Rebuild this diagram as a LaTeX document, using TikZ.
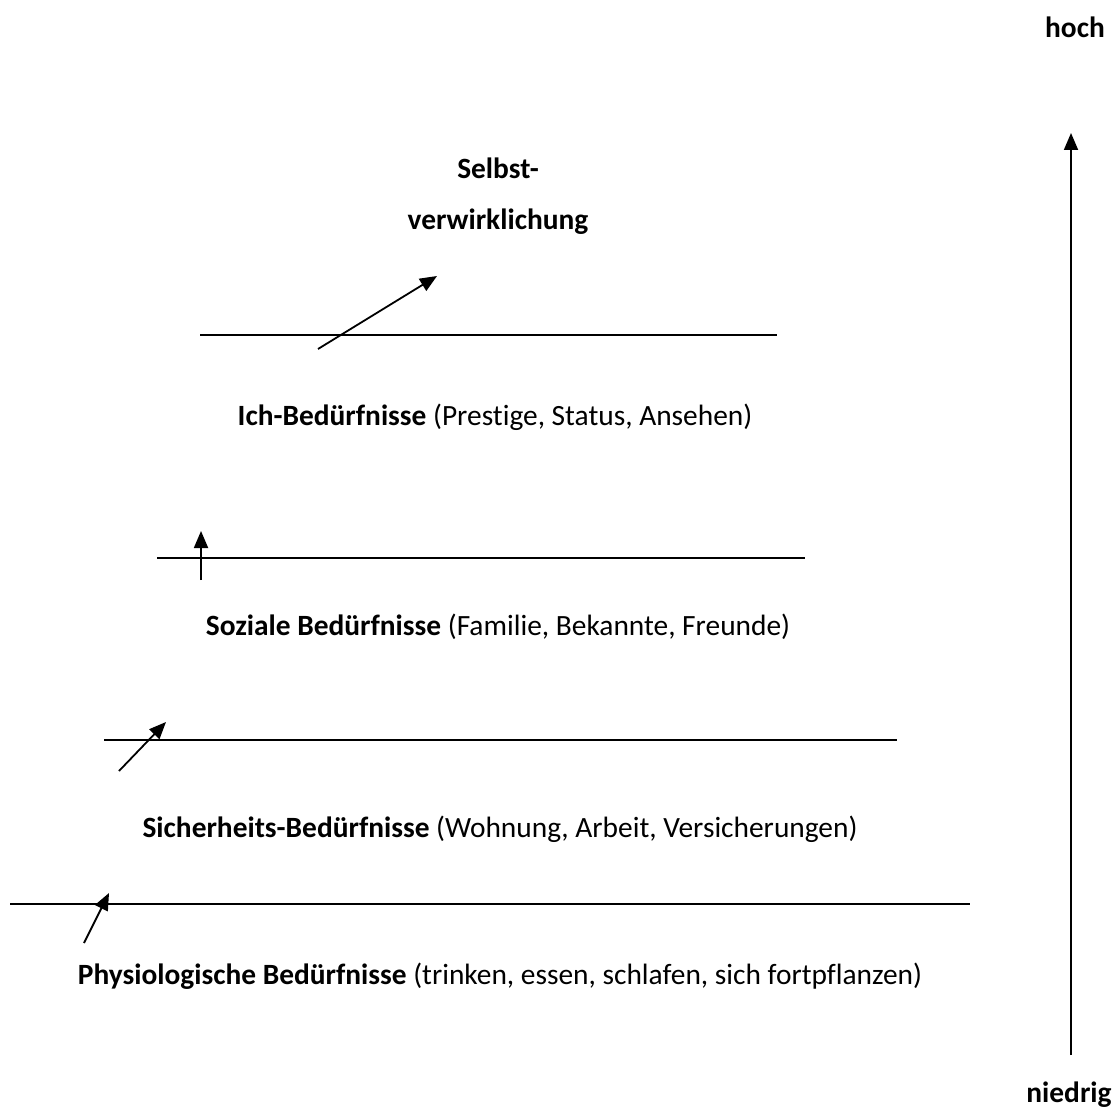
\documentclass[tikz,border=0pt]{standalone}
\usepackage{fontspec}
\setmainfont{Carlito}[Ligatures=NoCommon]
\usetikzlibrary{arrows.meta}
\begin{document}
\begin{tikzpicture}[x=0.5pt,y=-0.5pt,font=\fontsize{14.7}{17}\selectfont,
  lbl/.style={anchor=center,inner sep=1pt},
  lvl/.style={line width=0.9pt},
  up/.style={line width=0.9pt,-{Triangle[length=8.5pt,width=7pt]}}]
  \useasboundingbox (0,0) rectangle (1118,1112);
  % scale on the right
  \node[lbl] (hoch) at (1075,27) {\textbf{hoch}};
  \node[lbl] (nied) at (1069,1095) {\textbf{niedrig}};
  \coordinate (sb) at (1071,1055); \coordinate (st) at (1071,133);
  \draw[up] (sb) -- (st);
  % levels
  \node[lbl] (sv1) at (498,168) {\textbf{Selbst-}};
  \node[lbl] (sv2) at (498,222) {\textbf{verwirklichung}};
  \node[lbl] (ich) at (495,417) {\textbf{Ich-Bedürfnisse} (Prestige, Status, Ansehen)};
  \node[lbl] (soz) at (498,627) {\textbf{Soziale Bedürfnisse} (Familie, Bekannte, Freunde)};
  \node[lbl] (sich) at (500,829) {\textbf{Sicherheits-Bedürfnisse} (Wohnung, Arbeit, Versicherungen)};
  \node[lbl] (phys) at (500,976) {\textbf{Physiologische Bedürfnisse} (trinken, essen, schlafen, sich fortpflanzen)};
  % dividing lines
  \coordinate (l1a) at (200,335); \coordinate (l1b) at (777,335); \draw[lvl] (l1a) -- (l1b);
  \coordinate (l2a) at (157,558); \coordinate (l2b) at (805,558); \draw[lvl] (l2a) -- (l2b);
  \coordinate (l3a) at (104,740); \coordinate (l3b) at (897,740); \draw[lvl] (l3a) -- (l3b);
  \coordinate (l4a) at (10,904);  \coordinate (l4b) at (970,904); \draw[lvl] (l4a) -- (l4b);
  % small arrows
  \coordinate (a1a) at (318,349); \coordinate (a1b) at (437,276); \draw[up] (a1a) -- (a1b);
  \coordinate (a2a) at (201,580); \coordinate (a2b) at (201,531); \draw[up] (a2a) -- (a2b);
  \coordinate (a3a) at (119,771); \coordinate (a3b) at (166,722); \draw[up] (a3a) -- (a3b);
  \coordinate (a4a) at (84,943);  \coordinate (a4b) at (109,893); \draw[up] (a4a) -- (a4b);
\end{tikzpicture}
\end{document}
